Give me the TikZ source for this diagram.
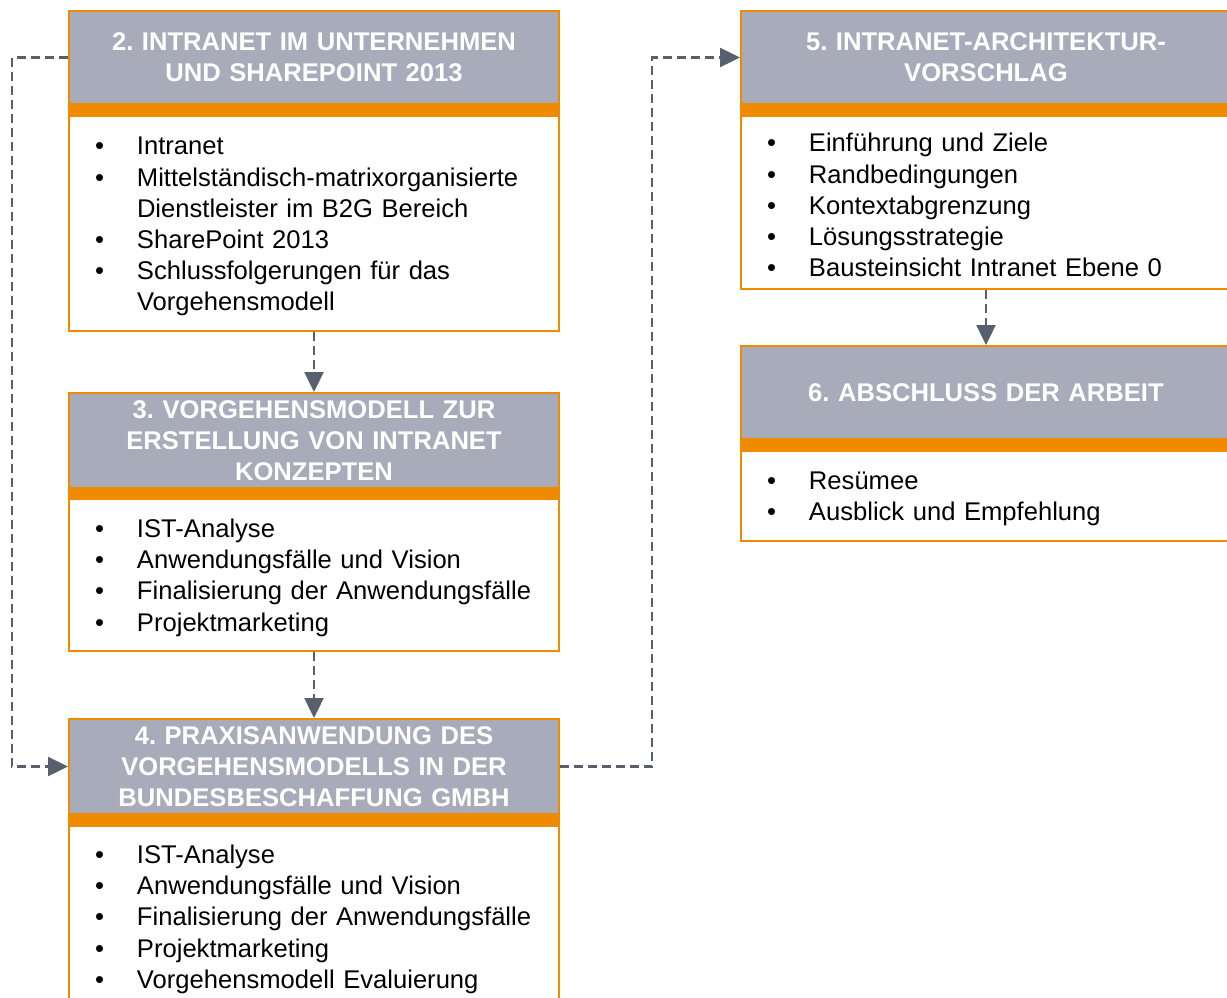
\documentclass[tikz,border=0pt]{standalone}
\usepackage{fontspec}
\setmainfont{Liberation Sans}
\usetikzlibrary{arrows.meta}
\definecolor{headgray}{RGB}{168,171,186}
\definecolor{boxorange}{RGB}{240,138,0}
\definecolor{flowgray}{RGB}{88,96,110}
\newcommand{\itm}{\hspace*{13pt}\makebox[21pt][l]{\textbullet}}
\newcommand{\cnt}{\hspace*{34pt}}
\frenchspacing

\begin{document}
\begin{tikzpicture}[x=0.5pt, y=-0.5pt,
    head/.style={rectangle, fill=headgray, draw=boxorange, line width=1pt, anchor=north west,
      minimum width=245pt, minimum height=46.5pt, text width=235pt, align=center, inner sep=0pt,
      text=white, font=\fontsize{12.8}{15.5}\selectfont\bfseries},
    body/.style={rectangle, fill=white, draw=boxorange, line width=1pt, anchor=north west,
      minimum width=245pt, text width=245pt, align=left, inner sep=0pt,
      font=\fontsize{12.8}{15.6}\selectfont, execute at begin node={\rule{0pt}{12pt}}},
    band/.style={fill=boxorange},
    flow/.style={draw=flowgray, line width=1.2pt, dash pattern=on 4.5pt off 2.5pt,
      -{Triangle[length=10pt,width=9.5pt]}}]
    \clip (0,0) rectangle (1227,997);

    % left column
    \node[head] (h2) at (68,10) {2. INTRANET IM UNTERNEHMEN\\UND SHAREPOINT 2013};
    \node[body, minimum height=107.5pt] (b2) at (68,115) {\itm Intranet\\
      \itm Mittelständisch-matrixorganisierte\\ \cnt Dienstleister im B2G Bereich\\
      \itm SharePoint 2013\\ \itm Schlussfolgerungen für das\\ \cnt Vorgehensmodell};
    \fill[band] (h2.south west) rectangle (b2.north east);

    \node[head, minimum height=47.5pt] (h3) at (68,392) {3. VORGEHENSMODELL ZUR\\ERSTELLUNG VON INTRANET\\KONZEPTEN};
    \node[body, minimum height=76pt] (b3) at (68,498) {\itm IST-Analyse\\
      \itm Anwendungsfälle und Vision\\ \itm Finalisierung der Anwendungsfälle\\
      \itm Projektmarketing};
    \fill[band] (h3.south west) rectangle (b3.north east);

    \node[head, minimum height=47.5pt] (h4) at (68,718) {4. PRAXISANWENDUNG DES\\VORGEHENSMODELLS IN DER\\BUNDESBESCHAFFUNG GMBH};
    \node[body, minimum height=90.5pt] (b4) at (68,825) {\itm IST-Analyse\\
      \itm Anwendungsfälle und Vision\\ \itm Finalisierung der Anwendungsfälle\\
      \itm Projektmarketing\\ \itm Vorgehensmodell Evaluierung};
    \fill[band] (h4.south west) rectangle (b4.north east);

    % right column
    \node[head] (h5) at (740,10) {5. INTRANET-ARCHITEKTUR-\\VORSCHLAG};
    \node[body, minimum height=86.5pt] (b5) at (740,115) {\itm Einführung und Ziele\\
      \itm Randbedingungen\\ \itm Kontextabgrenzung\\ \itm Lösungsstrategie\\
      \itm Bausteinsicht Intranet Ebene 0};
    \fill[band] (h5.south west) rectangle (b5.north east);

    \node[head] (h6) at (740,345) {6. ABSCHLUSS DER ARBEIT};
    \node[body, minimum height=45pt] (b6) at (740,450) {\itm Resümee\\
      \itm Ausblick und Empfehlung};
    \fill[band] (h6.south west) rectangle (b6.north east);

    % draw connectors
    \draw[flow] (h2.west) -- ++(-56,0) |- (h4.west);
    \draw[flow] (b2.south) -- (h3.north);
    \draw[flow] (b3.south) -- (h4.north);
    \draw[flow] (h4.east) -- ++(92,0) |- (h5.west);
    \draw[flow] (b5.south) -- (h6.north);
\end{tikzpicture}
\end{document}
